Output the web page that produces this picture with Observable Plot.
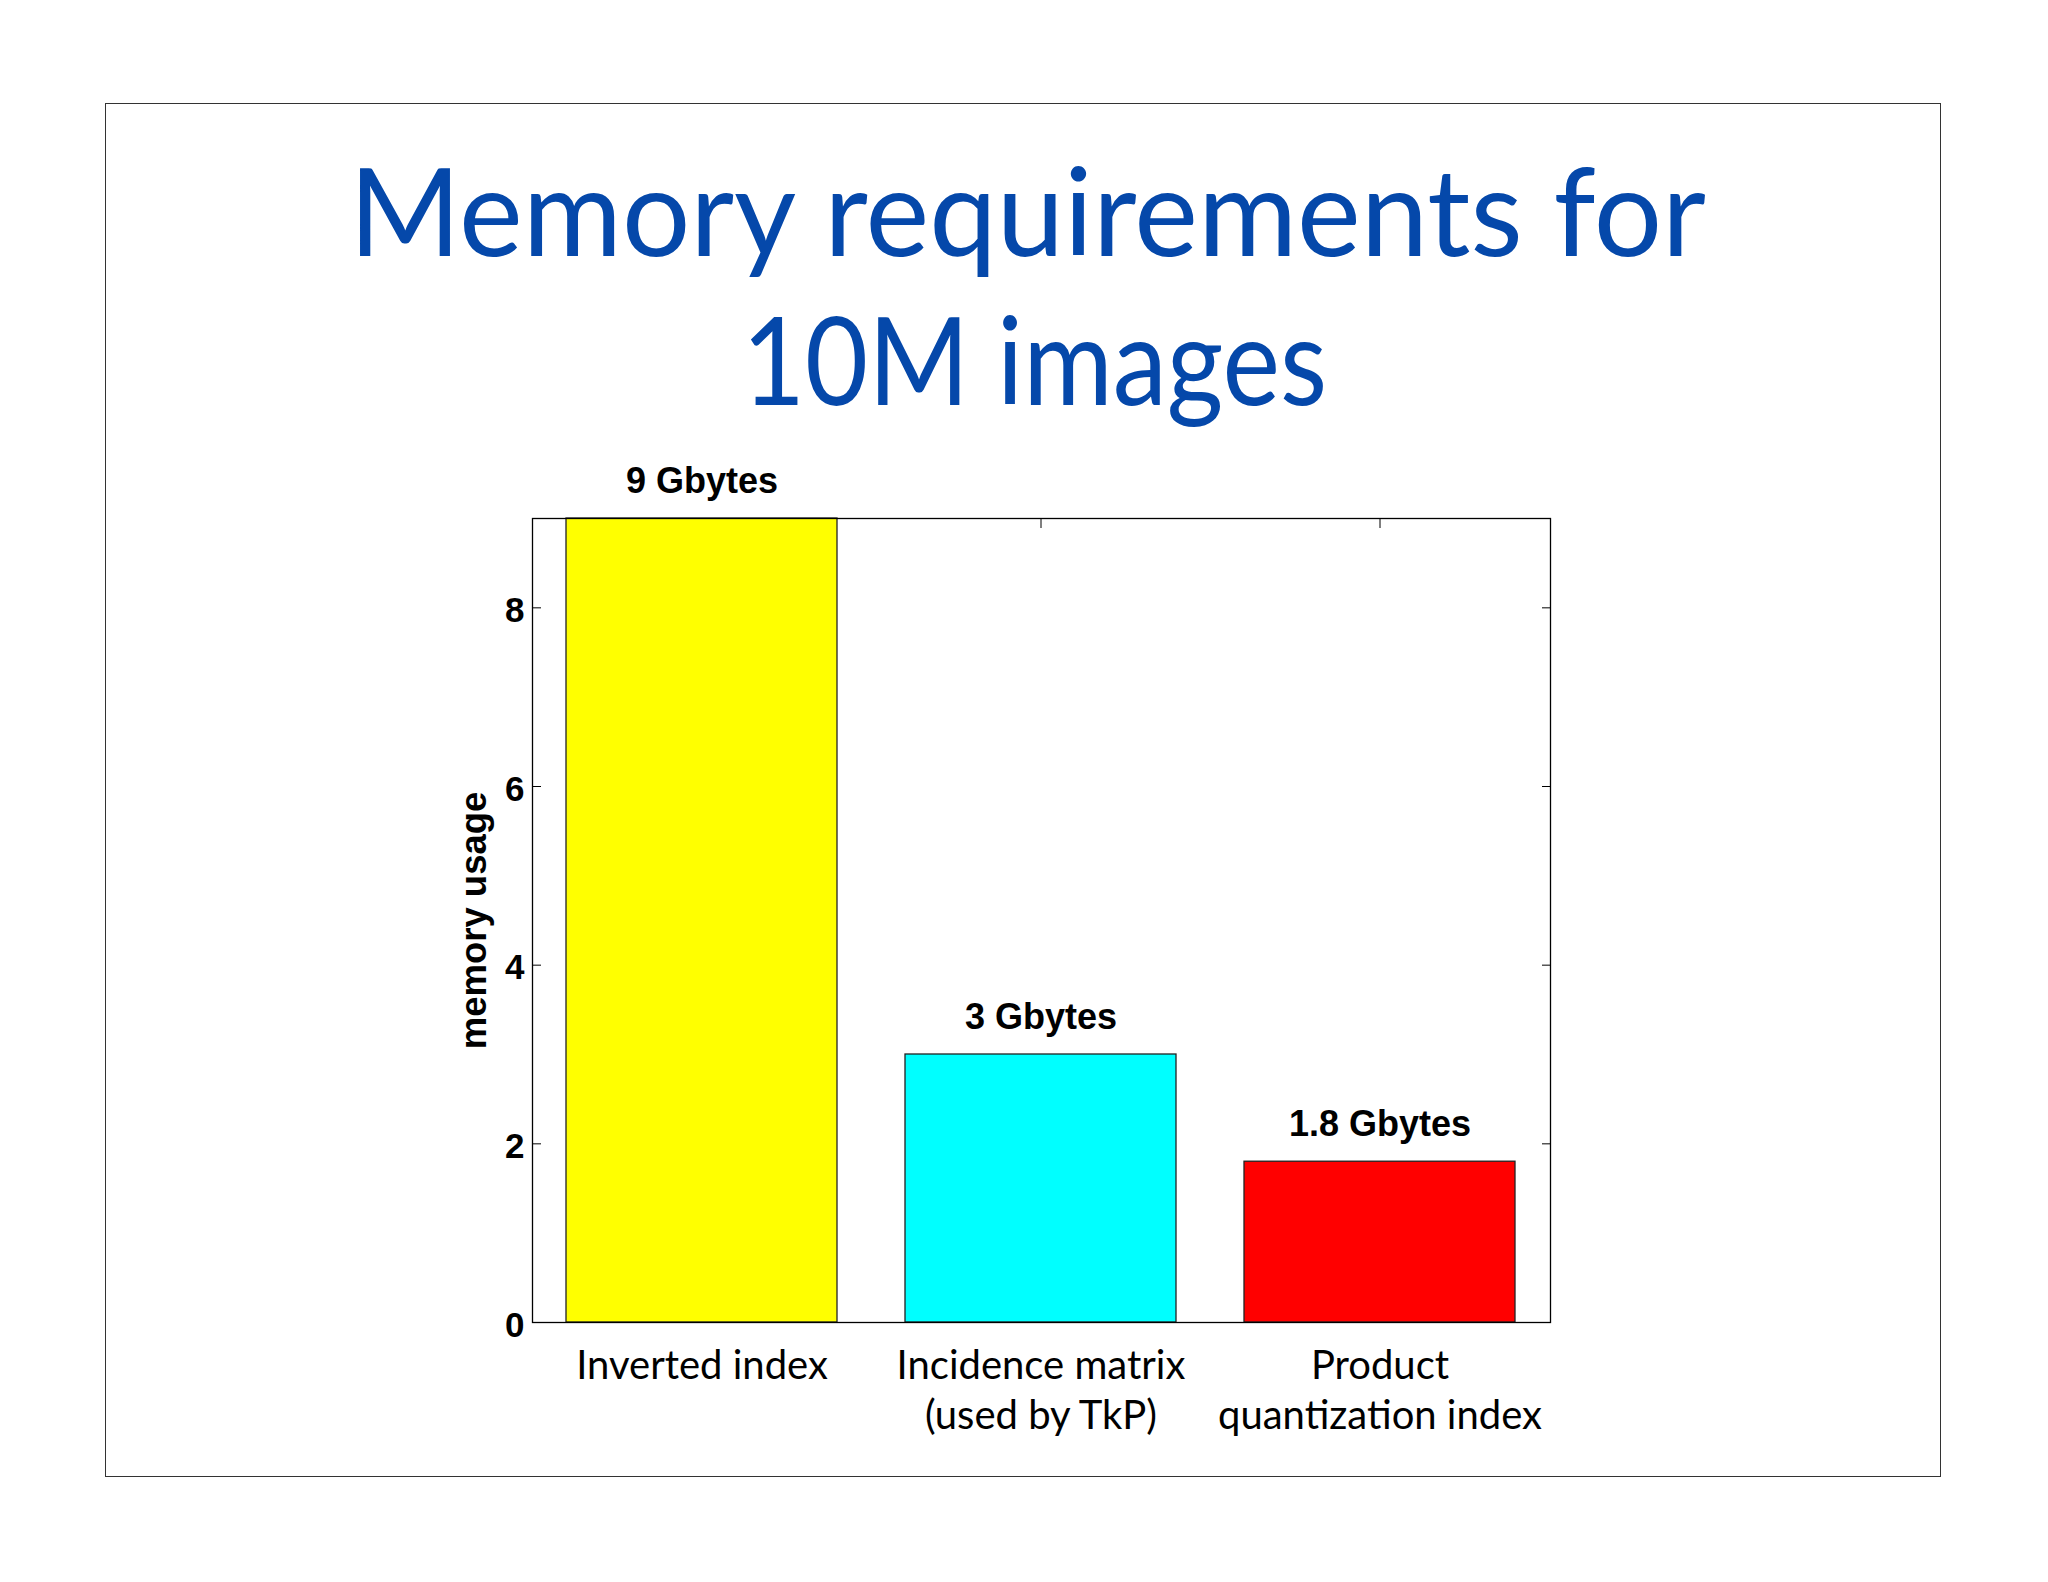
<!DOCTYPE html>
<html>
<head>
<meta charset="utf-8">
<script src="https://cdn.jsdelivr.net/npm/d3@7"></script>
<script src="https://cdn.jsdelivr.net/npm/@observablehq/plot@0.6"></script>
<style>
  html, body { margin: 0; padding: 0; background: #ffffff; overflow: hidden; }
  #page { position: relative; width: 2048px; height: 1582px; }
  #slide { position: absolute; left: 105px; top: 103px; width: 1836px; height: 1374px; border: 1.5px solid #333; box-sizing: border-box; }
  #title { position: absolute; left: 0; top: 0; }
  #chart { position: absolute; left: 0; top: 440px; }
</style>
</head>
<body>
<div id="page">
  <div id="slide"></div>
  <svg id="title" width="2048" height="440" xmlns="http://www.w3.org/2000/svg">
    <text x="349" y="256" font-family="Lato" font-size="123" fill="#0548aa" textLength="1357" lengthAdjust="spacingAndGlyphs">Memory requirements for</text>
    <text x="742" y="405" font-family="Lato" font-size="123" fill="#0548aa" textLength="585" lengthAdjust="spacingAndGlyphs">10M images</text>
  </svg>
  <div id="chart"></div>
</div>
<script>
const categories = ["Inverted index", "Incidence matrix\n(used by TkP)", "Product\nquantization index"];
const values = [9, 3, 1.8];
const valueLabels = ["9 Gbytes", "3 Gbytes", "1.8 Gbytes"];
const barColors = ["#ffff00", "#00ffff", "#ff0000"];
const yTicks = [0, 2, 4, 6, 8];
const yLabel = "memory usage";

const data = categories.map((c, i) => ({category: c, value: values[i], label: valueLabels[i], color: barColors[i]}));

const bold = {fontFamily: "Liberation Sans, Arial, Helvetica, sans-serif", fontWeight: "bold"};

const chart = Plot.plot({
  width: 2048,
  height: 1040,
  marginLeft: 532,
  marginRight: 498,
  marginTop: 78,
  marginBottom: 158,
  style: {background: "transparent", color: "black"},
  x: {type: "band", domain: categories, paddingInner: 0.2, paddingOuter: 0.1, align: 0.5},
  y: {domain: [0, 9], range: [882, 78]},
  color: {type: "identity"},
  marks: [
    // inward ticks (MATLAB box style)
    Plot.axisY({anchor: "left", ticks: yTicks, tickSize: 9, dx: 9, tickFormat: () => "", label: null, stroke: "black"}),
    Plot.axisY({anchor: "right", ticks: yTicks, tickSize: 9, dx: -9, tickFormat: () => "", label: null, stroke: "black"}),
    Plot.axisX({anchor: "top", tickSize: 9, dy: 9, tickFormat: () => "", label: null, stroke: "black"}),
    Plot.text(yTicks, {y: d => d, frameAnchor: "left", text: d => String(d), textAnchor: "end", lineAnchor: "middle", dx: -8, dy: 3, fontSize: 35, ...bold, fill: "black"}),
    Plot.axisX({anchor: "bottom", tickSize: 0, tickPadding: 21, fontSize: 40, fontFamily: "Lato", lineHeight: 1.25, label: null, fill: "black"}),
    Plot.barY(data, {x: "category", y: "value", fill: "color", stroke: "#222", strokeWidth: 1.3}),
    Plot.text(data, {x: "category", y: "value", text: "label", dy: -26, lineAnchor: "bottom", fontSize: 36, ...bold, fill: "black"}),
    Plot.text([yLabel], {frameAnchor: "left", text: d => d, rotate: -90, textAnchor: "middle", dx: -47, lineAnchor: "bottom", fontSize: 36.5, ...bold, fill: "black"}),
    Plot.frame({stroke: "black", strokeWidth: 1.3})
  ]
});
document.getElementById("chart").appendChild(chart);
</script>
</body>
</html>
